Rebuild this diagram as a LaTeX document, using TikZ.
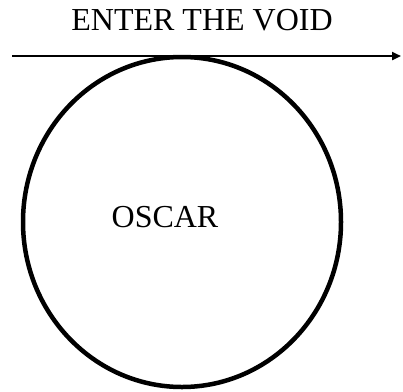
\documentclass[tikz,border=0pt]{standalone}
\usepackage{fontspec}
\setmainfont{Liberation Serif}
\usepackage{tikz}
\usetikzlibrary{
    arrows.meta,
    shapes.geometric,
    positioning
}
\tikzstyle{caption} = [
    inner sep=0pt,
    font=\fontsize{32}{38}\selectfont
]
\tikzstyle{world} = [
    ellipse,
    draw=black,
    line width=4.5pt,
    minimum width=318pt,
    minimum height=330pt
]
\tikzstyle{timeline} = [
    -{Triangle[length=9pt,width=8pt]},
    line width=2.5pt,
    draw=black
]

\begin{document}
\begin{tikzpicture}[x=1pt, y=1pt]
        \useasboundingbox (0,0) rectangle (403,-391);

        % Title
        \node[caption] (title) at (202,-20) {ENTER THE VOID};

        % Timeline
        \coordinate (tstart) at (12,-56);
        \coordinate (tend) at (401,-56);
        \draw[timeline] (tstart) -- (tend);

        % Circle
        \node[world] (void) at (182,-222) {};
        \node[caption] (oscar) at (165,-217) {OSCAR};
    \end{tikzpicture}
\end{document}
